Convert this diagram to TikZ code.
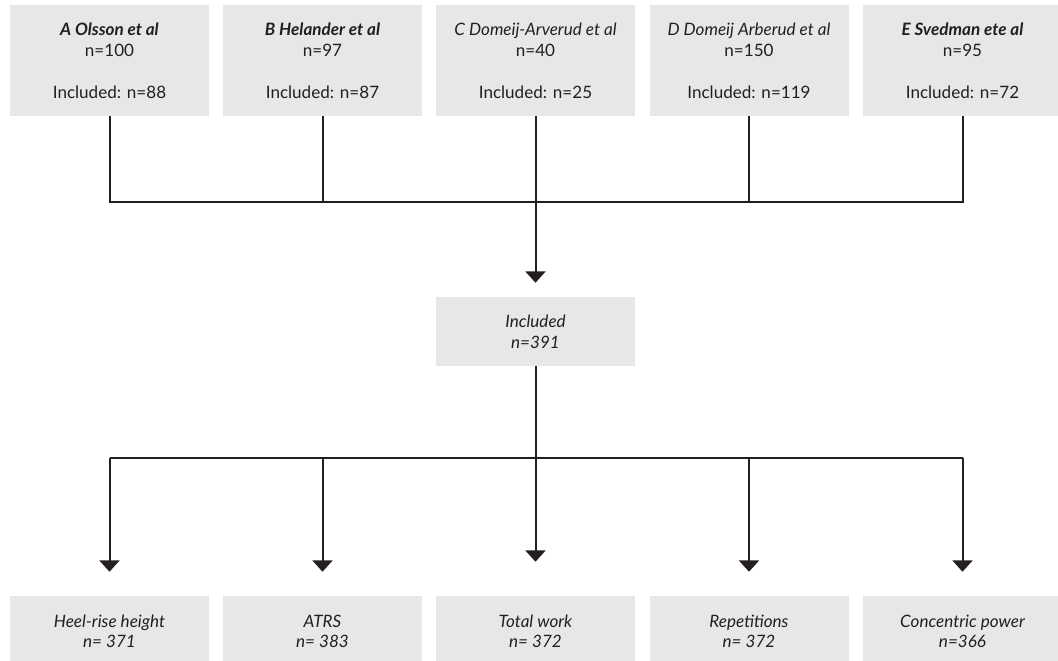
\documentclass[tikz,border=0pt]{standalone}
\usepackage{fontspec}
\setmainfont{Lato}
\usetikzlibrary{arrows.meta}
\definecolor{boxgray}{HTML}{E6E7E8}
\definecolor{ink}{HTML}{231F20}
\tikzset{
  px/.style={x=0.75pt,y=-0.75pt},
  srcbox/.style={fill=boxgray,draw=none,minimum width=149.25pt,minimum height=83.25pt,
     inner sep=0pt,align=center,text=ink,font=\fontsize{12.8}{15.75}\selectfont},
  midbox/.style={fill=boxgray,draw=none,minimum width=149.25pt,minimum height=51.75pt,
     inner sep=0pt,align=center,text=ink,font=\fontsize{12.8}{15.75}\selectfont\itshape},
  outbox/.style={fill=boxgray,draw=none,minimum width=149.25pt,minimum height=52.5pt,
     inner sep=0pt,align=center,text=ink,font=\fontsize{12.8}{15}\selectfont\itshape},
  conn/.style={draw=ink,line width=1.5pt},
  arr/.style={conn,-{Triangle[width=15pt,length=8.5pt]}},
}
\begin{document}
\begin{tikzpicture}[px]
\useasboundingbox (0,0) rectangle (1058,661);
\clip (0,0) rectangle (1058,661);
% top source boxes
\node[srcbox] (A) at (109.5,60.5) {\textbf{\textit{A Olsson et al}}\\ n=100\\[15.75pt] Included: n=88};
\node[srcbox] (B) at (322.5,60.5) {\textbf{\textit{B Helander et al}}\\ n=97\\[15.75pt] Included: n=87};
\node[srcbox] (C) at (535.5,60.5) {\textit{C Domeij-Arverud et al}\\ n=40\\[15.75pt] Included: n=25};
\node[srcbox] (D) at (749,60.5) {\textit{D Domeij Arberud et al}\\ n=150\\[15.75pt] Included: n=119};
\node[srcbox] (E) at (962.5,60.5) {\textbf{\textit{E Svedman ete al}}\\ n=95\\[15.75pt] Included: n=72};
% middle box
\node[midbox] (M) at (535.5,331.5) {Included\\ n=391};
% outcome boxes
\node[outbox] (O1) at (109.5,631) {Heel-rise height\\ n= 371};
\node[outbox] (O2) at (322.5,631) {ATRS\\ n= 383};
\node[outbox] (O3) at (535.5,631) {Total work\\ n= 372};
\node[outbox] (O4) at (749,631) {Repetitions\\ n= 372};
\node[outbox] (O5) at (962.5,631) {Concentric power\\ n=366};
% junctions
\coordinate (J1) at (535.5,202);
\coordinate (J2) at (535.5,458);
% top merge
\draw[conn] (A.south) -- (A.south |- J1) -- (E.south |- J1) -- (E.south);
\draw[conn] (B.south) -- (B.south |- J1);
\draw[conn] (C.south) -- (C.south |- J1);
\draw[conn] (D.south) -- (D.south |- J1);
\draw[arr, shorten >=10.5pt] (J1) -- (M.north);
% bottom split
\draw[conn] (M.south) -- (J2);
\draw[conn] (O1.north |- J2) -- (O5.north |- J2);
\draw[arr, shorten >=18pt] (O1.north |- J2) -- (O1.north);
\draw[arr, shorten >=18pt] (O2.north |- J2) -- (O2.north);
\draw[arr, shorten >=25.5pt] (J2) -- (O3.north);
\draw[arr, shorten >=18pt] (O4.north |- J2) -- (O4.north);
\draw[arr, shorten >=18pt] (O5.north |- J2) -- (O5.north);
\end{tikzpicture}
\end{document}
